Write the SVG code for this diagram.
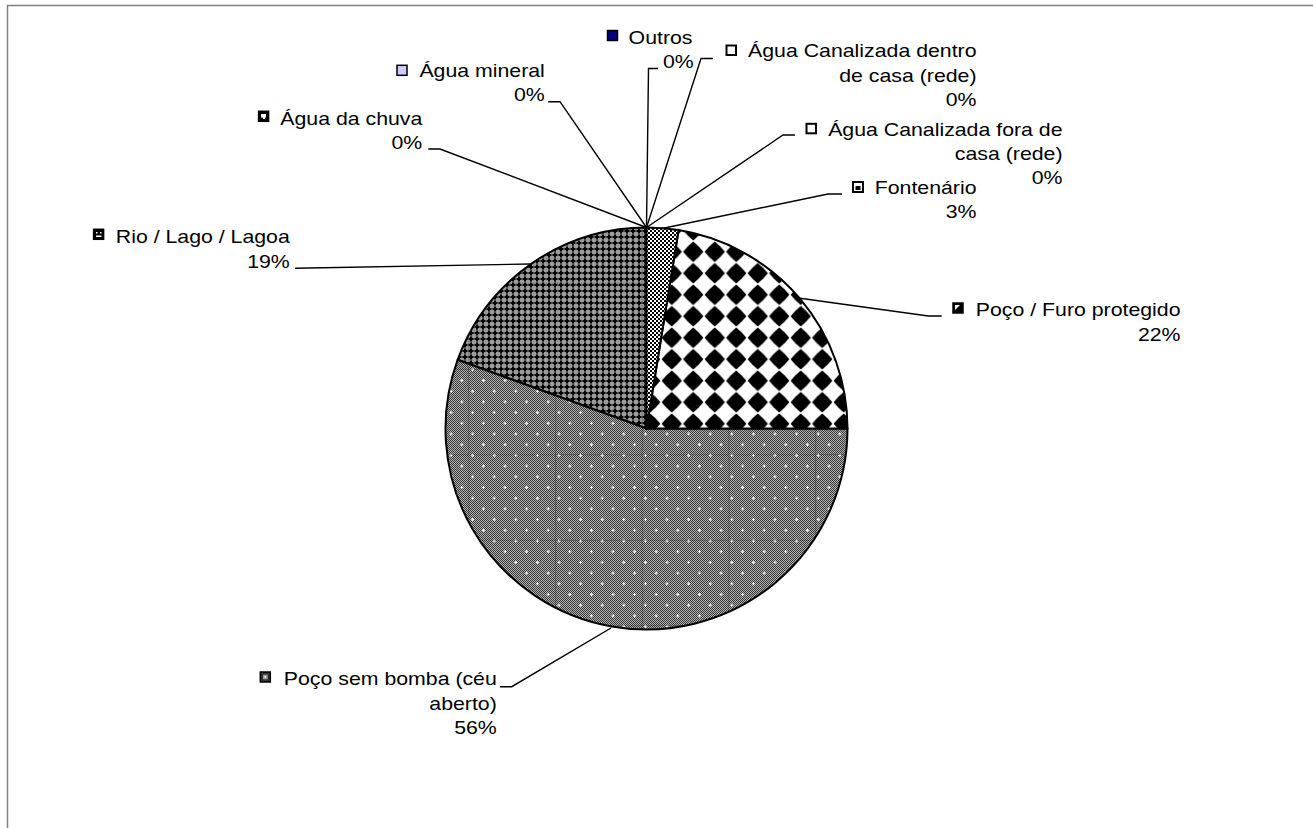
<svg xmlns="http://www.w3.org/2000/svg" width="1313" height="828" viewBox="0 0 1313 828">
<style>
.lbl{font-family:"Liberation Sans",Arial,sans-serif;font-size:18.6px;fill:#000;text-anchor:end}
.ld{fill:none;stroke:#000;stroke-width:1.4}
.sl{stroke:#000;stroke-width:2;stroke-linejoin:round}
.mk{stroke:#000;stroke-width:1.5}
</style>
<defs>
<pattern id="fontPat" patternUnits="userSpaceOnUse" x="0" y="0" width="4" height="4">
<rect width="4" height="4" fill="#fff"/>
<rect x="0" y="0" width="2" height="2" fill="#000"/>
<rect x="2" y="2" width="2" height="2" fill="#000"/>
</pattern>
<pattern id="diaPat" patternUnits="userSpaceOnUse" x="682.5" y="241" width="21.5" height="21.5">
<rect width="21.5" height="21.5" fill="#fff"/>
<polygon points="10.75,0.6 16.2,5.3 20.9,10.75 16.2,16.2 10.75,20.9 5.3,16.2 0.6,10.75 5.3,5.3" fill="#000"/>
</pattern>
<pattern id="chk" patternUnits="userSpaceOnUse" x="0" y="0" width="2" height="2">
<rect width="2" height="2" fill="#b0b0b0"/>
<rect x="0" y="0" width="1" height="1" fill="#3a3a3a"/>
<rect x="1" y="1" width="1" height="1" fill="#3a3a3a"/>
</pattern>
<pattern id="dotPat" patternUnits="userSpaceOnUse" x="499.6" y="418" width="21.6" height="21.4">
<g fill="#fff">
<rect x="3.9" y="4.75" width="3" height="1"/><rect x="4.9" y="3.75" width="1" height="3"/>
<rect x="14.7" y="15.45" width="3" height="1"/><rect x="15.7" y="14.45" width="1" height="3"/>
</g>
</pattern>
<pattern id="rioPat" patternUnits="userSpaceOnUse" x="0" y="0" width="6" height="6">
<rect width="6" height="6" fill="#9a9a9a"/>
<rect x="2" y="0.5" width="2" height="5" fill="#000"/>
<rect x="0.5" y="2" width="5" height="2" fill="#000"/>
</pattern>
<pattern id="seam" patternUnits="userSpaceOnUse" x="468.3" y="283.3" width="86.7" height="85.5">
<path d="M0.5,0 V85.5 M0,0.5 H86.7" stroke="#000" stroke-width="1" stroke-dasharray="1 1" stroke-opacity="0.45" fill="none"/>
</pattern>
</defs>
<rect width="1313" height="828" fill="#fff"/>
<rect x="7.5" y="5.5" width="1320" height="840" fill="none" stroke="#808080" stroke-width="1.5"/>

<g id="pie">
<g id="slice-rio">
<path d="M646.5,428.5 L457.6,359.8 A201,201 0 0 1 646.5,227.5 Z" fill="url(#rioPat)"/>
<path d="M646.5,428.5 L457.6,359.8 A201,201 0 0 1 646.5,227.5 Z" fill="url(#seam)" class="sl"/>
</g>
<g id="slice-semb">
<path d="M646.5,428.5 L847.5,428.5 A201,201 0 1 1 457.6,359.8 Z" fill="url(#chk)"/>
<path d="M646.5,428.5 L847.5,428.5 A201,201 0 1 1 457.6,359.8 Z" fill="url(#dotPat)"/>
<path d="M646.5,428.5 L847.5,428.5 A201,201 0 1 1 457.6,359.8 Z" fill="url(#seam)" class="sl"/>
</g>
<g id="slice-furo">
<path d="M646.5,428.5 L678.6,230.1 A201,201 0 0 1 847.5,428.5 Z" fill="url(#diaPat)" class="sl"/>
</g>
<g id="slice-font">
<path d="M646.5,428.5 L646.5,227.5 A201,201 0 0 1 678.6,230.1 Z" fill="url(#fontPat)" class="sl"/>
</g>
</g>

<g id="connectors">
<path class="ld" d="M658,68.5 H648.5 L646.5,227.5"/>
<path class="ld" d="M713,58.5 H701 L646.5,227.5"/>
<path class="ld" d="M795,135 H783 L646.5,227.5"/>
<path class="ld" d="M842,194 H828 L662,228.5"/>
<path class="ld" d="M941.7,316 H928.3 L800,298.3"/>
<path class="ld" d="M548.3,101.7 H560 L646.5,227.5"/>
<path class="ld" d="M428.3,149 H440 L646.5,227.5"/>
<path class="ld" d="M295,268.3 L530,264"/>
<path class="ld" d="M500,686.7 H511.7 L611,628"/>
</g>

<g id="lbl-outros">
<rect class="mk" x="607.5" y="30.5" width="10" height="10" fill="#000080"/>
<text class="lbl" transform="matrix(1.145 0 0 1 692.5 43.5)">Outros</text>
<text class="lbl" transform="matrix(1.145 0 0 1 693.8 68)">0%</text>
</g>
<g id="lbl-dentro">
<rect x="726.5" y="45.5" width="9.5" height="9.5" fill="#fff" stroke="#000" stroke-width="2"/>
<text class="lbl" transform="matrix(1.145 0 0 1 976.5 57)">Água Canalizada dentro</text>
<text class="lbl" transform="matrix(1.145 0 0 1 976.5 81.5)">de casa (rede)</text>
<text class="lbl" transform="matrix(1.145 0 0 1 976.5 105.5)">0%</text>
</g>
<g id="lbl-fora">
<rect x="806.5" y="123.8" width="9.5" height="9.5" fill="#fff" stroke="#000" stroke-width="2"/>
<text class="lbl" transform="matrix(1.145 0 0 1 1062.5 135.5)">Água Canalizada fora de</text>
<text class="lbl" transform="matrix(1.145 0 0 1 1062.5 160)">casa (rede)</text>
<text class="lbl" transform="matrix(1.145 0 0 1 1062.5 184.3)">0%</text>
</g>
<g id="lbl-font">
<rect x="853" y="182" width="10" height="10" fill="#fff" stroke="#000" stroke-width="2"/>
<rect x="855.5" y="186" width="5" height="4" fill="#000"/>
<text class="lbl" transform="matrix(1.145 0 0 1 976.5 193.5)">Fontenário</text>
<text class="lbl" transform="matrix(1.145 0 0 1 976.5 218)">3%</text>
</g>
<g id="lbl-furo">
<rect class="mk" x="953" y="303" width="10" height="10" fill="#000"/>
<polygon points="955,305 960,305 955,310" fill="#fff"/>
<text class="lbl" transform="matrix(1.145 0 0 1 1180.5 316)">Poço / Furo protegido</text>
<text class="lbl" transform="matrix(1.145 0 0 1 1180.5 340.5)">22%</text>
</g>
<g id="lbl-mineral">
<rect class="mk" x="397" y="65.3" width="10" height="10" fill="#ccccff"/>
<text class="lbl" transform="matrix(1.145 0 0 1 544.8 76.7)">Água mineral</text>
<text class="lbl" transform="matrix(1.145 0 0 1 544.8 101.2)">0%</text>
</g>
<g id="lbl-chuva">
<rect class="mk" x="258.6" y="111.3" width="10" height="10" fill="#000"/>
<rect x="261" y="114" width="5" height="3.5" fill="#fff"/>
<rect x="263" y="117" width="2" height="2" fill="#fff"/>
<text class="lbl" transform="matrix(1.145 0 0 1 422.3 124.5)">Água da chuva</text>
<text class="lbl" transform="matrix(1.145 0 0 1 422.3 149)">0%</text>
</g>
<g id="lbl-rio">
<rect class="mk" x="93.6" y="229.3" width="10" height="10" fill="#000"/>
<rect x="96" y="232" width="1.5" height="1.5" fill="#fff"/>
<rect x="100" y="232" width="1.5" height="1.5" fill="#fff"/>
<rect x="96" y="235.5" width="5.5" height="1.5" fill="#fff"/>
<text class="lbl" transform="matrix(1.145 0 0 1 289.8 243)">Rio / Lago / Lagoa</text>
<text class="lbl" transform="matrix(1.145 0 0 1 289.8 267.5)">19%</text>
</g>
<g id="lbl-semb">
<rect class="mk" x="260.3" y="672" width="10" height="10" fill="#333"/>
<rect x="263" y="674.7" width="4.6" height="4.6" fill="#9a9a9a"/>
<rect x="264.5" y="676.2" width="1.6" height="1.6" fill="#fff"/>
<text class="lbl" transform="matrix(1.145 0 0 1 496.8 685)">Poço sem bomba (céu</text>
<text class="lbl" transform="matrix(1.145 0 0 1 496.8 709.5)">aberto)</text>
<text class="lbl" transform="matrix(1.145 0 0 1 496.8 734)">56%</text>
</g>
</svg>
